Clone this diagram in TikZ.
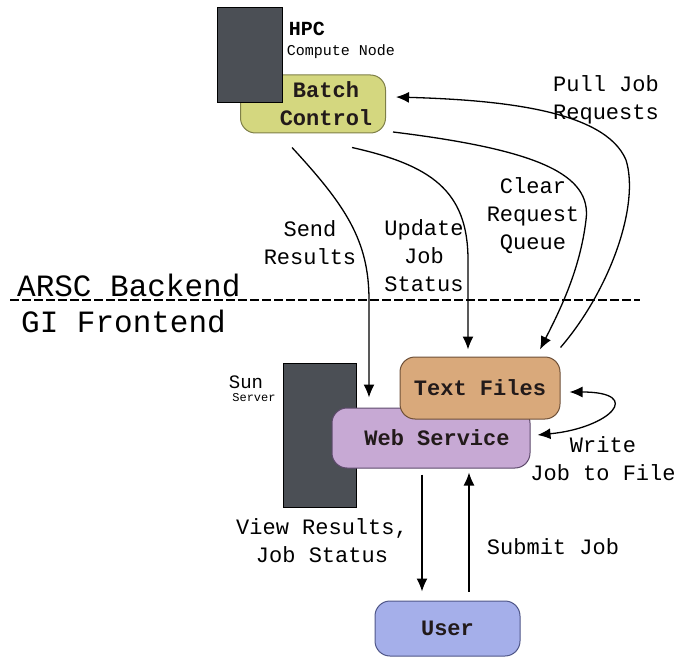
\documentclass[tikz,border=0pt]{standalone}
\usepackage{fontspec}
\setmainfont{Liberation Mono}
\usetikzlibrary{arrows.meta,calc}
\definecolor{darkbox}{HTML}{4B4F55}
\definecolor{batchfill}{HTML}{D4D77F}
\definecolor{batchdraw}{HTML}{7E7F48}
\definecolor{tffill}{HTML}{D9A97B}
\definecolor{tfdraw}{HTML}{6E5038}
\definecolor{webfill}{HTML}{C7A9D4}
\definecolor{webdraw}{HTML}{5E4A6C}
\definecolor{userfill}{HTML}{A5AFEA}
\definecolor{userdraw}{HTML}{4F5688}
\definecolor{ntext}{HTML}{221A1A}
\begin{document}
\begin{tikzpicture}[x=1pt,y=-1pt,
  box/.style={draw, rounded corners=15pt, line width=1pt, inner sep=0pt},
  srv/.style={draw=black, fill=darkbox, line width=1pt, inner sep=0pt},
  lbl/.style={font=\fontsize{22}{28}\selectfont, align=center, inner sep=0pt},
  ntxt/.style={font=\bfseries\fontsize{22}{28}\selectfont, align=center, inner sep=0pt, text=ntext},
  conn/.style={line width=1.3pt, -{Latex[length=13pt,width=11pt]}},
  conn2/.style={line width=1.3pt, {Latex[length=13pt,width=11pt]}-{Latex[length=13pt,width=11pt]}}
]
\useasboundingbox (0,0) rectangle (678,658);

% backend boxes
\node[box, fill=batchfill, draw=batchdraw, minimum width=145pt, minimum height=58pt] (batch) at (313,104) {};
\node[srv, minimum width=65pt, minimum height=95pt] (hpc) at (249.5,55.5) {};
\node[ntxt] (batchtxt) at (326,104) {Batch\\Control};
\node[font=\bfseries\fontsize{20}{24}\selectfont, inner sep=0pt] (hpclbl) at (307,29) {HPC};
\node[font=\fontsize{15}{18}\selectfont, inner sep=0pt] (cnlbl) at (341,52) {Compute Node};

% frontend boxes
\node[srv, minimum width=73pt, minimum height=144pt] (sun) at (319.5,435) {};
\node[box, fill=webfill, draw=webdraw, minimum width=198pt, minimum height=60pt] (web) at (431,438) {};
\node[ntxt] (webtxt) at (437,438) {Web Service};
\node[box, fill=tffill, draw=tfdraw, minimum width=160pt, minimum height=62pt, ntxt] (tf) at (480,388) {Text Files};
\node[box, fill=userfill, draw=userdraw, minimum width=145pt, minimum height=55pt, ntxt] (user) at (447.5,628.5) {User};
\node[font=\fontsize{19}{22}\selectfont, inner sep=0pt] (sunlbl) at (246,382) {Sun};
\node[font=\fontsize{12}{14}\selectfont, inner sep=0pt] (srvlbl) at (254,398) {Server};

% divider
\coordinate (dl) at (10,300);
\coordinate (dr) at (640,300);
\draw[line width=1.2pt, dash pattern=on 9pt off 3pt] (dl) -- (dr);
\node[font=\fontsize{31}{34}\selectfont, inner sep=0pt, anchor=west] (arsc) at (17,285) {ARSC Backend};
\node[font=\fontsize{31}{34}\selectfont, inner sep=0pt, anchor=west] (gi) at (21,321) {GI Frontend};

% connectors
\draw[conn] ($(batch.south)+(-21,14)$) .. controls (345,205) and (369,240) .. (369,300) -- ($(web.north)+(-62,-10)$);
\draw[conn] ($(batch.south)+(39,14)$) .. controls (430,165) and (468,190) .. (468,260) -- ($(tf.north)+(-12,-7)$);
\draw[conn] ($(batch.east)+(7,28)$) .. controls (540,150) and (592,175) .. (586,220) .. controls (580,270) and (560,310) .. ($(tf.north)+(60,-7)$);
\draw[conn] ($(tf.north east)+(0,-9)$) .. controls (610,290) and (640,205) .. (626,160) .. controls (605,110) and (500,100) .. ($(batch.east)+(10,-7)$);
\draw[conn2] ($(web.east)+(7,-3)$) .. controls (610,428) and (645,392) .. ($(tf.east)+(9,4)$);
\draw[conn] ($(web.south)+(-9,6)$) -- ($(user.north)+(-25.5,-9)$);
\draw[conn] ($(user.north)+(21.5,-9)$) -- ($(web.south)+(38,4)$);

% labels
\node[lbl] (l1) at (310,243) {Send\\Results};
\node[lbl] (l2) at (424,256) {Update\\Job\\Status};
\node[lbl] (l3) at (533,216) {Clear\\Request\\Queue};
\node[lbl] (l4) at (606,100) {Pull Job\\Requests};
\node[lbl] (l5) at (603,459) {Write\\Job to File};
\node[lbl] (l6) at (322,541) {View Results,\\Job Status};
\node[lbl] (l7) at (553,547) {Submit Job};
\end{tikzpicture}
\end{document}
